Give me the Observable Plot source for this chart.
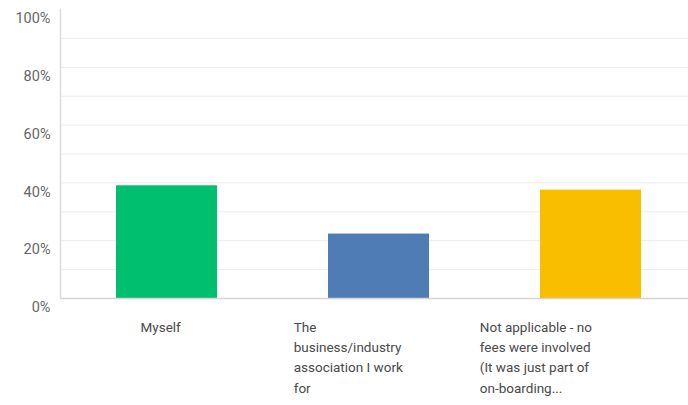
<!DOCTYPE html>
<html>
<head>
<meta charset="utf-8">
<script src="https://cdn.jsdelivr.net/npm/d3@7"></script>
<script src="https://cdn.jsdelivr.net/npm/@observablehq/plot@0.6"></script>
<style>
  html, body { margin: 0; padding: 0; background: #fff; }
</style>
</head>
<body>
<div id="chart"></div>
<script>
// ---- data ----
const categories = ["Myself", "Association", "Not applicable"];
const labels = [
  "Myself",
  "The\nbusiness/industry\nassociation I work\nfor",
  "Not applicable - no\nfees were involved\n(It was just part of\non-boarding..."
];
const values = [39.0, 22.3, 37.5];
const colors = ["#00bf6f", "#507cb6", "#f9be00"];
const yTicks = [0, 20, 40, 60, 80, 100];
const gridTicks = [10, 20, 30, 40, 50, 60, 70, 80, 90];

const data = categories.map((c, i) => ({cat: c, label: labels[i], value: values[i], color: colors[i]}));

const LABEL_FONT = 13.5;
const FONT = "Roboto, 'Open Sans', sans-serif";
const ctx = document.createElement("canvas").getContext("2d");
ctx.font = `${LABEL_FONT}px Roboto`;

// Labels sit in a slightly narrower row than the bars, as centred blocks of left-aligned lines
function labelRender(index, scales, vals, dims, context, next) {
  const g = next(index, scales, vals, dims, context);
  g.querySelectorAll("text").forEach((t, j) => {
    const tr = t.getAttribute("transform") || "";
    const m = /translate\(([^,\s]+)[,\s]+([^)]+)\)/.exec(tr);
    if (!m) return;
    const cx = +m[1], y = m[2];
    const i = index[j];
    const lines = String(data[i].label).split("\n");
    const w = Math.max(...lines.map(s => ctx.measureText(s).width));
    const center = 7 + 0.885 * cx;
    t.setAttribute("transform", `translate(${center - w / 2},${y})`);
  });
  return g;
}

const chart = Plot.plot({
  width: 688,
  height: 405,
  marginTop: 9,
  marginBottom: 107,
  marginLeft: 60,
  marginRight: 0,
  style: {fontFamily: FONT, background: "white"},
  x: {domain: categories, range: [60, 697.5], paddingInner: 0.525, paddingOuter: 0.2625, axis: null},
  y: {domain: [0, 100], axis: null},
  marks: [
    Plot.ruleY(gridTicks, {stroke: "#ececec"}),
    Plot.barY(data, {x: "cat", y: "value", fill: "color"}),
    Plot.ruleY([0], {stroke: "#d4d4d4", strokeWidth: 1.5}),
    Plot.frame({anchor: "left", stroke: "#dcdcdc", strokeWidth: 1.5}),
    Plot.axisY(yTicks, {
      tickSize: 0, tickPadding: 10, dy: 9, label: null,
      tickFormat: d => d + "%", color: "#666", fontSize: 14.5
    }),
    Plot.text(data, {
      x: "cat", text: "label", frameAnchor: "bottom", lineAnchor: "top",
      dy: 19, textAnchor: "start", lineHeight: 1.5, fontSize: LABEL_FONT,
      fill: "#4a4a4a", render: labelRender
    })
  ]
});
document.getElementById("chart").appendChild(chart);
</script>
</body>
</html>
